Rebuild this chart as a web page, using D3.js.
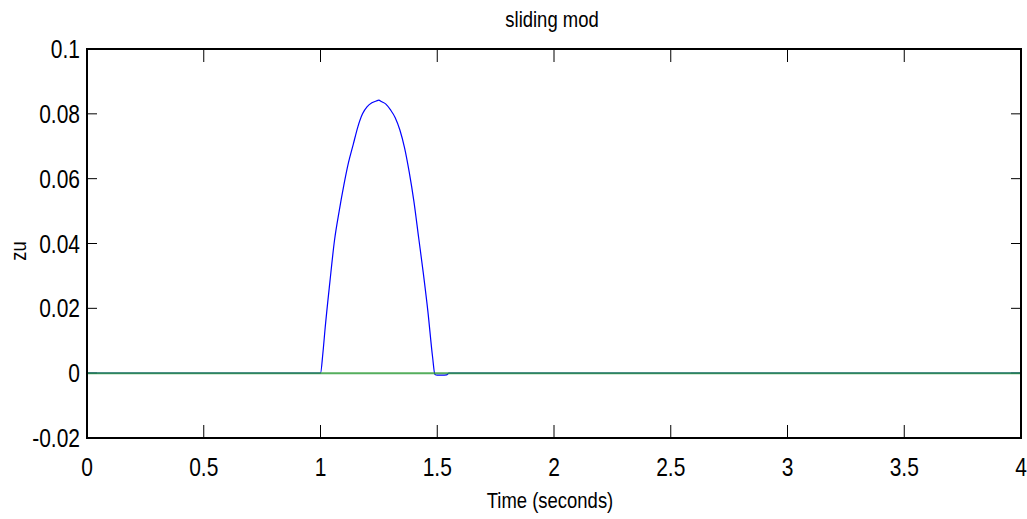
<!DOCTYPE html>
<html>
<head>
<meta charset="utf-8">
<script src="https://cdn.jsdelivr.net/npm/d3@7"></script>
<style>
  body { margin: 0; background: #fff; }
  text { font-family: "Liberation Sans", Arial, sans-serif; fill: #000; }
</style>
</head>
<body>
<svg id="chart" width="1027" height="519"></svg>
<script>
// data
var title = 'sliding mod';
var xLabel = 'Time (seconds)';
var yLabel = 'zu';
var xTicks = [0, 0.5, 1, 1.5, 2, 2.5, 3, 3.5, 4];
var yTicks = [-0.02, 0, 0.02, 0.04, 0.06, 0.08, 0.1];

// blue series: sliding mode output
var zuTime = [0, 1.0, 1.01, 1.02, 1.04, 1.06, 1.08, 1.10, 1.12, 1.14, 1.16, 1.18, 1.20, 1.22,
  1.24, 1.25, 1.26, 1.28, 1.30, 1.32, 1.34, 1.36, 1.38, 1.40, 1.42, 1.44, 1.46, 1.48, 1.49,
  1.50, 1.52, 1.54, 1.55, 4];
var zuValue = [0, 0, 0.006, 0.014, 0.028, 0.041, 0.050, 0.058, 0.065, 0.0705, 0.0760, 0.0800,
  0.0822, 0.0834, 0.0840, 0.0842, 0.0838, 0.0830, 0.0812, 0.0788, 0.0750, 0.0695, 0.0620,
  0.0530, 0.0420, 0.0310, 0.0190, 0.0050, -0.0004, -0.0006, -0.0006, -0.0005, 0, 0];

// green series: reference (zero)
var refTime = [0, 4];
var refValue = [0, 0];

var margin = {left: 87, top: 49, right: 1021, bottom: 438};

var x = d3.scaleLinear().domain([0, 4]).range([margin.left, margin.right]);
var y = d3.scaleLinear().domain([-0.02, 0.1]).range([margin.bottom, margin.top]);

var svg = d3.select('#chart');

var fmt = function(d) { return String(+d.toFixed(2)); };

// narrow text, the original uses a condensed face
var label = function(tx, ty, str, size, anchor, rot) {
  return svg.append('text')
    .attr('transform', 'translate(' + tx + ',' + ty + ')' + (rot ? ' rotate(' + rot + ')' : '') + ' scale(0.84,1)')
    .attr('text-anchor', anchor)
    .attr('font-size', size)
    .text(str);
};

// ticks, inward on all sides
var g = svg.append('g');
xTicks.forEach(function(t) {
  g.append('line').attr('x1', x(t)).attr('x2', x(t))
    .attr('y1', margin.bottom).attr('y2', margin.bottom - 13)
    .attr('stroke', '#000').attr('stroke-width', 1);
  g.append('line').attr('x1', x(t)).attr('x2', x(t))
    .attr('y1', margin.top).attr('y2', margin.top + 13)
    .attr('stroke', '#000').attr('stroke-width', 1);
  label(x(t), 476, fmt(t), 25, 'middle');
});
yTicks.forEach(function(t) {
  g.append('line').attr('x1', margin.left).attr('x2', margin.left + 10)
    .attr('y1', y(t)).attr('y2', y(t))
    .attr('stroke', '#000').attr('stroke-width', 1);
  g.append('line').attr('x1', margin.right).attr('x2', margin.right - 10)
    .attr('y1', y(t)).attr('y2', y(t))
    .attr('stroke', '#000').attr('stroke-width', 1);
  label(80, y(t) + 9, fmt(t), 25, 'end');
});

var line = d3.line()
  .curve(d3.curveMonotoneX)
  .x(function(d) { return x(d[0]); })
  .y(function(d) { return y(d[1]); });

svg.append('path')
  .datum(d3.zip(zuTime, zuValue))
  .attr('d', line)
  .attr('fill', 'none')
  .attr('stroke', '#0000ff')
  .attr('stroke-width', 1.2);

svg.append('path')
  .datum(d3.zip(refTime, refValue))
  .attr('d', line)
  .attr('fill', 'none')
  .attr('stroke', '#2a9a34')
  .attr('stroke-opacity', 0.8)
  .attr('stroke-width', 2);

// axes box
svg.append('rect')
  .attr('x', margin.left).attr('y', margin.top)
  .attr('width', margin.right - margin.left)
  .attr('height', margin.bottom - margin.top)
  .attr('fill', 'none').attr('stroke', '#000').attr('stroke-width', 2);

label(552, 27, title, 22, 'middle');
label(550, 508, xLabel, 22, 'middle');
label(26, 251, yLabel, 22, 'middle', -90);
</script>
</body>
</html>
